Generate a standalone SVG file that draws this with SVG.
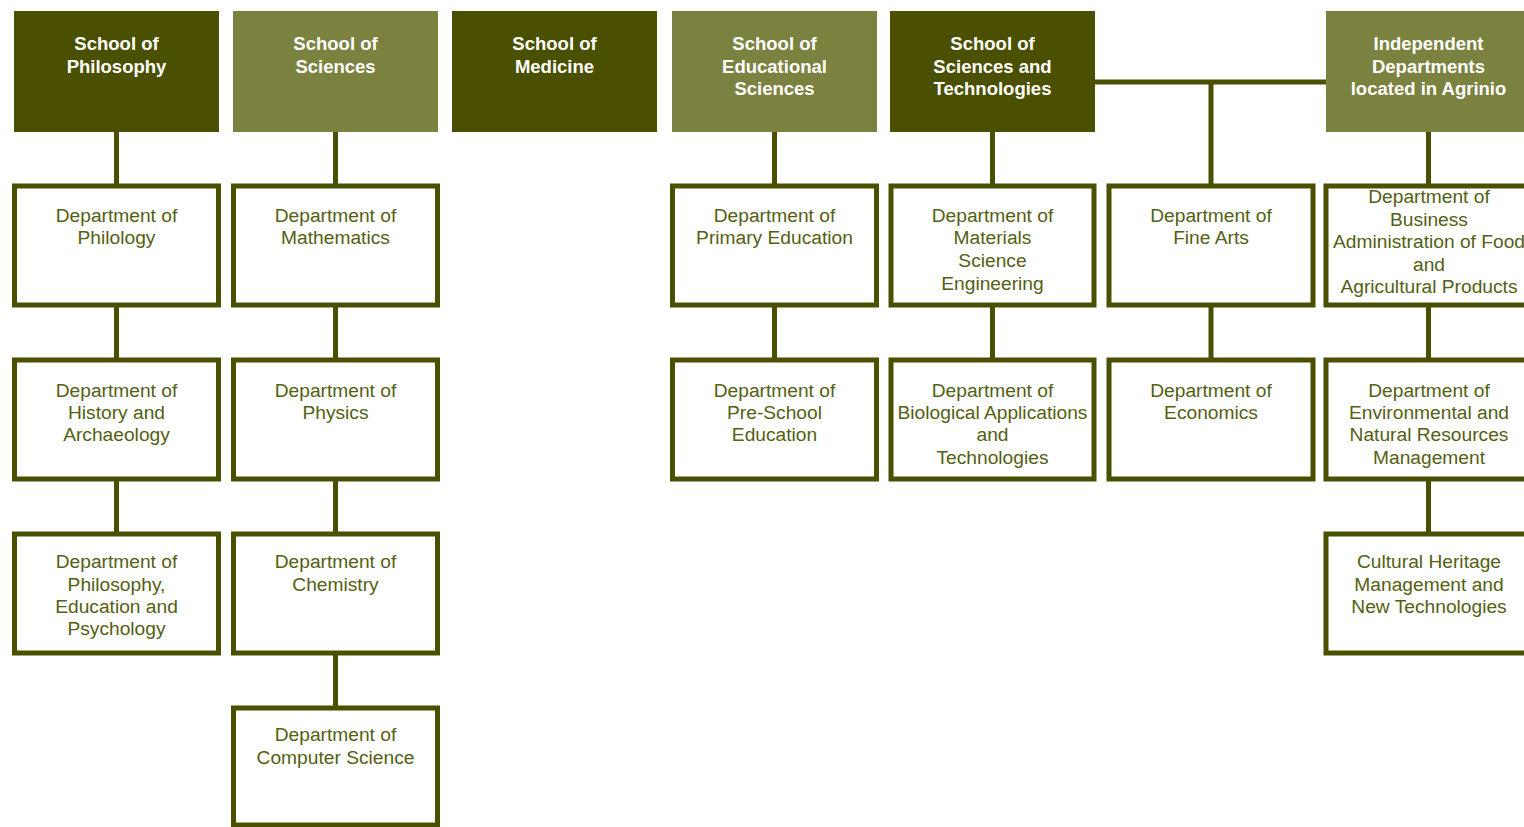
<svg xmlns="http://www.w3.org/2000/svg" width="1524" height="827" viewBox="0 0 1524 827">
<style>
.hd{fill:#4a5000}
.hl{fill:#7b8240}
.ht{font-family:"Liberation Sans",Arial,sans-serif;font-size:18.5px;font-weight:bold;fill:#ffffff;text-anchor:middle}
.dp{fill:#ffffff;stroke:#4a5000;stroke-width:5}
.dt{font-family:"Liberation Sans",Arial,sans-serif;font-size:19.2px;fill:#546012;text-anchor:middle}
.cn{stroke:#4a5000;stroke-width:5;fill:none}
</style>
<rect width="1524" height="827" fill="#ffffff"/>
<g id="connectors">
<line class="cn" x1="116.5" y1="131" x2="116.5" y2="536"/>
<line class="cn" x1="335.5" y1="131" x2="335.5" y2="710"/>
<line class="cn" x1="774.5" y1="131" x2="774.5" y2="362"/>
<line class="cn" x1="992.5" y1="131" x2="992.5" y2="362"/>
<line class="cn" x1="1094" y1="82" x2="1327" y2="82"/>
<line class="cn" x1="1211" y1="82" x2="1211" y2="362"/>
<line class="cn" x1="1428.5" y1="131" x2="1428.5" y2="536"/>
</g>
<g id="school-philosophy">
<rect class="hd" x="14" y="11" width="205" height="121"/>
<text class="ht" x="116.5" y="50">School of</text>
<text class="ht" x="116.5" y="73">Philosophy</text>
</g>
<g id="school-sciences">
<rect class="hl" x="233" y="11" width="205" height="121"/>
<text class="ht" x="335.5" y="50">School of</text>
<text class="ht" x="335.5" y="73">Sciences</text>
</g>
<g id="school-medicine">
<rect class="hd" x="452" y="11" width="205" height="121"/>
<text class="ht" x="554.5" y="50">School of</text>
<text class="ht" x="554.5" y="73">Medicine</text>
</g>
<g id="school-educational">
<rect class="hl" x="672" y="11" width="205" height="121"/>
<text class="ht" x="774.5" y="50">School of</text>
<text class="ht" x="774.5" y="73">Educational</text>
<text class="ht" x="774.5" y="95">Sciences</text>
</g>
<g id="school-scitech">
<rect class="hd" x="890" y="11" width="205" height="121"/>
<text class="ht" x="992.5" y="50">School of</text>
<text class="ht" x="992.5" y="73">Sciences and</text>
<text class="ht" x="992.5" y="95">Technologies</text>
</g>
<g id="independent">
<rect class="hl" x="1326" y="11" width="205" height="121"/>
<text class="ht" x="1428.5" y="50">Independent</text>
<text class="ht" x="1428.5" y="73">Departments</text>
<text class="ht" x="1428.5" y="95">located in Agrinio</text>
</g>
<g id="dept-philology">
<rect class="dp" x="14.5" y="186" width="204" height="119"/>
<text class="dt" x="116.5" y="222">Department of</text>
<text class="dt" x="116.5" y="244">Philology</text>
</g>
<g id="dept-history">
<rect class="dp" x="14.5" y="360" width="204" height="119"/>
<text class="dt" x="116.5" y="397">Department of</text>
<text class="dt" x="116.5" y="419">History and</text>
<text class="dt" x="116.5" y="441">Archaeology</text>
</g>
<g id="dept-ppe">
<rect class="dp" x="14.5" y="534" width="204" height="119"/>
<text class="dt" x="116.5" y="568">Department of</text>
<text class="dt" x="116.5" y="591">Philosophy,</text>
<text class="dt" x="116.5" y="613">Education and</text>
<text class="dt" x="116.5" y="635">Psychology</text>
</g>
<g id="dept-math">
<rect class="dp" x="233.5" y="186" width="204" height="119"/>
<text class="dt" x="335.5" y="222">Department of</text>
<text class="dt" x="335.5" y="244">Mathematics</text>
</g>
<g id="dept-physics">
<rect class="dp" x="233.5" y="360" width="204" height="119"/>
<text class="dt" x="335.5" y="397">Department of</text>
<text class="dt" x="335.5" y="419">Physics</text>
</g>
<g id="dept-chemistry">
<rect class="dp" x="233.5" y="534" width="204" height="119"/>
<text class="dt" x="335.5" y="568">Department of</text>
<text class="dt" x="335.5" y="591">Chemistry</text>
</g>
<g id="dept-cs">
<rect class="dp" x="233.5" y="708" width="204" height="117"/>
<text class="dt" x="335.5" y="741">Department of</text>
<text class="dt" x="335.5" y="764">Computer Science</text>
</g>
<g id="dept-primary">
<rect class="dp" x="672.5" y="186" width="204" height="119"/>
<text class="dt" x="774.5" y="222">Department of</text>
<text class="dt" x="774.5" y="244">Primary Education</text>
</g>
<g id="dept-preschool">
<rect class="dp" x="672.5" y="360" width="204" height="119"/>
<text class="dt" x="774.5" y="397">Department of</text>
<text class="dt" x="774.5" y="419">Pre-School</text>
<text class="dt" x="774.5" y="441">Education</text>
</g>
<g id="dept-materials">
<rect class="dp" x="891" y="186" width="203" height="119"/>
<text class="dt" x="992.5" y="222">Department of</text>
<text class="dt" x="992.5" y="244">Materials</text>
<text class="dt" x="992.5" y="267">Science</text>
<text class="dt" x="992.5" y="290">Engineering</text>
</g>
<g id="dept-bio">
<rect class="dp" x="891" y="360" width="203" height="119"/>
<text class="dt" x="992.5" y="397">Department of</text>
<text class="dt" x="992.5" y="419">Biological Applications</text>
<text class="dt" x="992.5" y="441">and</text>
<text class="dt" x="992.5" y="464">Technologies</text>
</g>
<g id="dept-finearts">
<rect class="dp" x="1109" y="186" width="204" height="119"/>
<text class="dt" x="1211" y="222">Department of</text>
<text class="dt" x="1211" y="244">Fine Arts</text>
</g>
<g id="dept-economics">
<rect class="dp" x="1109" y="360" width="204" height="119"/>
<text class="dt" x="1211" y="397">Department of</text>
<text class="dt" x="1211" y="419">Economics</text>
</g>
<g id="dept-business">
<rect class="dp" x="1326" y="186" width="205" height="119"/>
<text class="dt" x="1429" y="203">Department of</text>
<text class="dt" x="1429" y="226">Business</text>
<text class="dt" x="1429" y="248">Administration of Food</text>
<text class="dt" x="1429" y="271">and</text>
<text class="dt" x="1429" y="293">Agricultural Products</text>
</g>
<g id="dept-environment">
<rect class="dp" x="1326" y="360" width="205" height="119"/>
<text class="dt" x="1429" y="397">Department of</text>
<text class="dt" x="1429" y="419">Environmental and</text>
<text class="dt" x="1429" y="441">Natural Resources</text>
<text class="dt" x="1429" y="464">Management</text>
</g>
<g id="dept-heritage">
<rect class="dp" x="1326" y="534" width="205" height="119"/>
<text class="dt" x="1429" y="568">Cultural Heritage</text>
<text class="dt" x="1429" y="591">Management and</text>
<text class="dt" x="1429" y="613">New Technologies</text>
</g>
</svg>
